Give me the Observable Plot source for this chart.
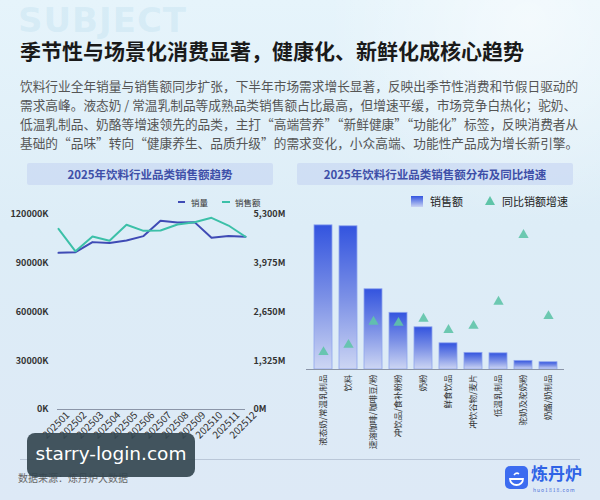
<!DOCTYPE html>
<html><head><meta charset="utf-8">
<script src="https://cdn.jsdelivr.net/npm/d3@7"></script>
<script src="https://cdn.jsdelivr.net/npm/@observablehq/plot@0.6"></script>
<style>
html,body{margin:0;padding:0;}
#root{position:relative;width:600px;height:500px;overflow:hidden;
 font-family:"Noto Sans CJK SC","Noto Sans",sans-serif;
 background:
  radial-gradient(circle at 88% 4%, rgba(255,255,255,0.55), rgba(255,255,255,0) 28%),
  linear-gradient(180deg,#e6f4fb 0%,#ddedf7 45%,#dde9f6 100%);}
.abs{position:absolute;}
.ptitle{position:absolute;height:22px;line-height:22px;text-align:center;background:rgba(196,212,242,0.6);
 color:#3e4fa8;font-size:11.5px;font-weight:600;border-radius:2px;}
.plot{position:absolute;}
</style></head>
<body><div id="root">
<div class="abs" style="left:18px;top:0px;font-size:34px;line-height:40px;font-weight:700;color:rgba(150,205,228,0.2);letter-spacing:1px;font-family:'DejaVu Sans',sans-serif;">SUBJECT</div>
<div class="abs" style="left:20px;top:35px;font-size:21px;font-weight:700;color:#1a1a1a;white-space:nowrap;">季节性与场景化消费显著，健康化、新鲜化成核心趋势</div>
<div class="abs" style="left:20px;top:76px;font-size:12.7px;line-height:19px;color:#555;white-space:nowrap;">饮料行业全年销量与销售额同步扩张，下半年市场需求增长显著，反映出季节性消费和节假日驱动的<br>需求高峰。液态奶 / 常温乳制品等成熟品类销售额占比最高，但增速平缓，市场竞争白热化；驼奶、<br>低温乳制品、奶酪等增速领先的品类，主打“高端营养”“新鲜健康”“功能化”标签，反映消费者从<br>基础的“品味”转向“健康养生、品质升级”的需求变化，小众高端、功能性产品成为增长新引擎。</div>

<div class="ptitle" style="left:27px;top:163px;width:246px;">2025年饮料行业品类销售额趋势</div>
<div class="ptitle" style="left:297px;top:163px;width:276px;">2025年饮料行业品类销售额分布及同比增速</div>

<!-- left legend -->
<div class="abs" style="left:178px;top:201px;width:7px;height:2px;background:#3f4bb5;"></div>
<div class="abs" style="left:191px;top:195px;font-size:8.5px;line-height:14px;color:#333;">销量</div>
<div class="abs" style="left:222px;top:201px;width:8px;height:2px;background:#3cc0a8;"></div>
<div class="abs" style="left:235px;top:195px;font-size:8.5px;line-height:14px;color:#333;">销售额</div>

<!-- right legend -->
<div class="abs" style="left:411px;top:196px;width:12px;height:11px;background:linear-gradient(180deg,#3355e0,#c9d3f3);"></div>
<div class="abs" style="left:430px;top:193px;font-size:11px;line-height:16px;color:#222;">销售额</div>
<svg class="abs" style="left:484px;top:195px;" width="12" height="11"><polygon points="6,1 11,10 1,10" fill="#5fc4a8"/></svg>
<div class="abs" style="left:502px;top:193px;font-size:11px;line-height:16px;color:#222;">同比销额增速</div>

<div id="left" class="plot" style="left:0;top:205px;width:300px;height:245px;"></div>
<div id="right" class="plot" style="left:300px;top:205px;width:300px;height:245px;"></div>

<!-- footer -->
<div class="abs" style="left:20px;top:459px;width:560px;height:1px;background:#bac7d8;"></div>
<div class="abs" style="left:18px;top:470px;font-size:10px;line-height:16px;color:#666;">数据来源：炼丹炉大数据</div>
<svg class="abs" style="left:505px;top:466px;" width="23" height="23"><rect x="0" y="0" width="23" height="23" rx="5" fill="#3c6cf0"/><path d="M5 13 a6.5 6 0 0 0 13 0 z" fill="none" stroke="#fff" stroke-width="1.8"/><path d="M9 9 q2.5 -3 5 -1" fill="none" stroke="#fff" stroke-width="1.6"/></svg>
<div class="abs" style="left:531px;top:463px;font-size:17px;line-height:20px;font-weight:700;color:#2f63e6;">炼丹炉</div>
<div class="abs" style="left:533px;top:487px;font-size:5px;line-height:6px;color:#4a6fd8;letter-spacing:1px;">huo1818.com</div>

<!-- overlay watermark -->
<div class="abs" style="left:27px;top:433px;width:168px;height:44px;border-radius:8px;background:rgba(52,70,80,0.92);color:#fff;font-size:18.5px;line-height:42px;text-align:center;font-family:'DejaVu Sans',sans-serif;">starry-login.com</div>
</div>

<script>
const months = ["202501","202502","202503","202504","202505","202506","202507","202508","202509","202510","202511","202512"];
const volume = [96400, 96800, 103000, 102400, 104000, 106700, 116100, 115100, 115300, 105700, 106700, 106300];
const revenue = [4910, 4300, 4700, 4585, 5020, 4855, 4865, 5030, 5090, 5210, 5000, 4695];
const volTicks = [0, 30000, 60000, 90000, 120000];
const revTicks = [0, 1325, 2650, 3975, 5300];

const categories = ["液态奶/常温乳制品","饮料","速溶咖啡/咖啡豆/粉","冲饮品/食补粉粉","奶粉","鲜食饮品","冲饮谷物/麦片","低温乳制品","驼奶及驼奶粉","奶酪/奶制品"];
const sales = [936, 930, 521, 368, 274, 170, 108, 105, 56, 47];
const growth = [3.4, 4.8, 9.3, 9.1, 9.9, 7.7, 8.5, 13.2, 26.2, 10.4];

const FONT = '"Noto Sans CJK SC","Noto Sans",sans-serif';
const lineData = months.map((m, i) => ({month: m, volume: volume[i], revenue: revenue[i]}));
const catData = categories.map((c, i) => ({cat: c, sales: sales[i], growth: growth[i]}));

const baseL = {width: 300, height: 245, marginLeft: 57, marginRight: 55, marginTop: 9, marginBottom: 41,
  style: {background: "transparent", fontFamily: FONT, overflow: "visible"}};
const xL = {type: "point", domain: months, padding: 0, axis: null};

const p1 = Plot.plot({...baseL,
  x: xL,
  y: {domain: [0, 120000], axis: null},
  marks: [
    Plot.axisY(volTicks, {anchor: "left", tickSize: 0, tickPadding: 9, tickFormat: d => d + "K",
      fontSize: 9, fontWeight: 600, fill: "#333", label: null}),
    Plot.ruleY([0], {stroke: "#8b95a8", strokeWidth: 1}),
    Plot.line(lineData, {x: "month", y: "volume", stroke: "#3f4bb5", strokeWidth: 2}),
    Plot.text(months, {x: d => d, text: d => d, frameAnchor: "bottom", dy: 18, rotate: -45,
      textAnchor: "middle", fontSize: 10, fill: "#333"})
  ]
});
const p2 = Plot.plot({...baseL,
  x: xL,
  y: {domain: [0, 5300], axis: null},
  marks: [
    Plot.axisY(revTicks, {anchor: "right", tickSize: 0, tickPadding: 8, tickFormat: d => d3.format(",")(d) + "M",
      fontSize: 9, fontWeight: 600, fill: "#333", label: null}),
    Plot.line(lineData, {x: "month", y: "revenue", stroke: "#3cc0a8", strokeWidth: 2})
  ]
});
[p1, p2].forEach(p => { p.style.position = "absolute"; p.style.left = "0"; p.style.top = "0"; document.getElementById("left").appendChild(p); });

const baseR = {width: 300, height: 245, marginLeft: 6, marginRight: 36, marginTop: 10, marginBottom: 81,
  style: {background: "transparent", fontFamily: FONT, overflow: "visible"}};
const xR = {type: "band", domain: categories, paddingInner: 0.3, paddingOuter: 0.15, axis: null};

const r1 = Plot.plot({...baseR,
  x: xR,
  y: {domain: [0, 1000], axis: null},
  marks: [
    Plot.barY(catData, {x: "cat", y: "sales", fill: "url(#barGrad)", stroke: "#8fa5ee", strokeWidth: 0.8}),
    Plot.ruleY([0], {stroke: "#8b95a8", strokeWidth: 1}),
    Plot.text(catData, {x: "cat", text: "cat", frameAnchor: "bottom", dy: 5, rotate: -90,
      textAnchor: "end", lineAnchor: "middle", fontSize: 8.5, fill: "#333"})
  ]
});
d3.select(r1).insert("defs", ":first-child").html(
  '<linearGradient id="barGrad" x1="0" y1="0" x2="0" y2="1">' +
  '<stop offset="0" stop-color="#3354df"/><stop offset="0.5" stop-color="#7b90e6"/><stop offset="1" stop-color="#cdd6f3"/></linearGradient>');
const r2 = Plot.plot({...baseR,
  x: xR,
  y: {domain: [0, 30], axis: null},
  marks: [
    Plot.dot(catData, {x: "cat", y: "growth", symbol: "triangle", r: 3.8, fill: "#5fc4a8", fillOpacity: 0.9, stroke: "none"})
  ]
});
[r1, r2].forEach(p => { p.style.position = "absolute"; p.style.left = "0"; p.style.top = "0"; document.getElementById("right").appendChild(p); });
</script>
</body></html>
